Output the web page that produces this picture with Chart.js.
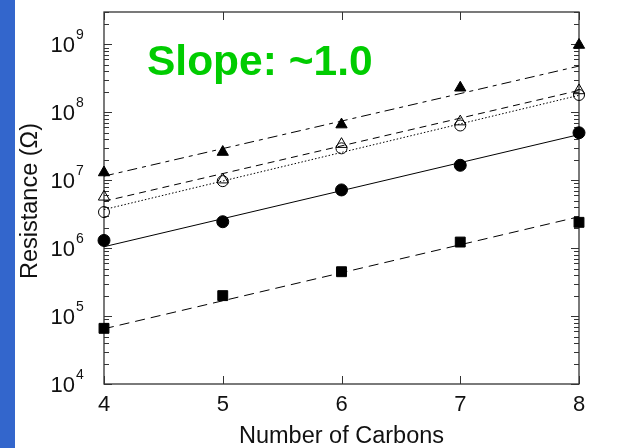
<!DOCTYPE html>
<html><head><meta charset="utf-8">
<script src="https://cdn.jsdelivr.net/npm/chart.js@4.4.1/dist/chart.umd.min.js"></script>
<style>
html,body{margin:0;padding:0;background:#fff;}
#wrap{position:relative;width:619px;height:448px;overflow:hidden;background:#fff;}
#strip{position:absolute;left:0;top:0;width:15px;height:448px;background:#3366cc;}
canvas{position:absolute;left:0;top:0;}
</style></head><body>
<div id="wrap"><div id="strip"></div><canvas id="c" width="619" height="448"></canvas></div>
<script>
// ---- data ----
const carbons = [4, 5, 6, 7, 8];
const filledTriangle = [1.3e7, 2.6e7, 6.6e7, 2.3e8, 9.8e8];
const openTriangle   = [5.7e6, 1.02e7, 3.4e7, 7.3e7, 2.1e8];
const openCircle     = [3.4e6, 9.7e6, 2.95e7, 6.4e7, 1.8e8];
const filledCircle   = [1.3e6, 2.45e6, 7.2e6, 1.66e7, 5.0e7];
const filledSquare   = [6.6e4, 2.0e5, 4.5e5, 1.23e6, 2.4e6];

const fitX = [4, 8];
const fitFilledTriangle = [1.15e7, 4.8e8];
const fitOpenTriangle   = [4.9e6, 2.1e8];
const fitOpenCircle     = [3.7e6, 1.78e8];
const fitFilledCircle   = [1.05e6, 4.7e7];
const fitFilledSquare   = [6.5e4, 2.9e6];

const xTickValues = [4, 5, 6, 7, 8];
const yTickExponents = [4, 5, 6, 7, 8, 9];
const yMin = 1e4, yMax = 3e9;
const xTitle = 'Number of Carbons';
const yTitle = 'Resistance (\u03A9)';
const slopeText = 'Slope: ~1.0';

const pts = (xs, ys) => xs.map((x, i) => ({x: x, y: ys[i]}));

function markerSet(ys, style, radius, filled) {
  return {
    data: pts(carbons, ys), showLine: false, clip: false,
    pointStyle: style, pointRadius: radius, pointHoverRadius: radius,
    backgroundColor: filled ? '#000' : 'rgba(0,0,0,0)',
    borderColor: '#000', pointBorderWidth: 1
  };
}
function fitSet(ys, dash) {
  return {
    data: pts(fitX, ys), showLine: true, clip: false, pointRadius: 0,
    borderColor: '#000', borderWidth: 1, borderDash: dash, fill: false
  };
}

const FONT = '"Liberation Sans", Arial, sans-serif';

const decor = {
  id: 'decor',
  beforeDatasetsDraw(chart) {
    const {ctx, chartArea: a, scales: {x, y}} = chart;
    ctx.save();
    ctx.strokeStyle = '#333';
    ctx.lineWidth = 1.3;
    ctx.strokeRect(a.left, a.top, a.right - a.left, a.bottom - a.top);
    ctx.lineWidth = 1;
    ctx.beginPath();
    xTickValues.forEach(v => {
      const px = Math.round(x.getPixelForValue(v)) + 0.5;
      ctx.moveTo(px, a.bottom); ctx.lineTo(px, a.bottom - 8);
      ctx.moveTo(px, a.top); ctx.lineTo(px, a.top + 8);
    });
    const e0 = yTickExponents[0], e1 = yTickExponents[yTickExponents.length - 1] + 1;
    for (let e = e0; e <= e1; e++) {
      for (let m = 1; m <= 9; m++) {
        const v = m * Math.pow(10, e);
        if (v < yMin || v > yMax) continue;
        const py = Math.round(y.getPixelForValue(v)) + 0.5;
        const len = m === 1 ? 8 : 5;
        ctx.moveTo(a.left, py); ctx.lineTo(a.left + len, py);
        ctx.moveTo(a.right, py); ctx.lineTo(a.right - len, py);
      }
    }
    ctx.stroke();
    ctx.restore();
  },
  afterDraw(chart) {
    const {ctx, chartArea: a, scales: {x, y}} = chart;
    ctx.save();
    ctx.fillStyle = '#111';
    // x tick labels
    ctx.font = '22px ' + FONT;
    ctx.textAlign = 'center';
    ctx.textBaseline = 'alphabetic';
    xTickValues.forEach(v => {
      ctx.fillText(String(v), x.getPixelForValue(v), 411);
    });
    // y tick labels 10^n
    yTickExponents.forEach(e => {
      const py = y.getPixelForValue(Math.pow(10, e));
      ctx.font = '22px ' + FONT;
      ctx.textAlign = 'right';
      ctx.fillText('10', 75, py + 8);
      ctx.font = '14px ' + FONT;
      ctx.textAlign = 'left';
      ctx.fillText(String(e), 76, py - 5);
    });
    // axis titles
    ctx.font = '23.5px ' + FONT;
    ctx.textAlign = 'center';
    ctx.fillText(xTitle, (a.left + a.right) / 2, 443);
    ctx.save();
    ctx.translate(37, (a.top + a.bottom) / 2 + 3);
    ctx.rotate(-Math.PI / 2);
    ctx.fillText(yTitle, 0, 0);
    ctx.restore();
    // annotation
    ctx.font = 'bold 42.5px ' + FONT;
    ctx.fillStyle = '#00cc00';
    ctx.textAlign = 'left';
    ctx.fillText(slopeText, 147, 75);
    ctx.restore();
  }
};

new Chart(document.getElementById('c'), {
  type: 'scatter',
  data: {
    datasets: [
      markerSet(filledTriangle, 'triangle', 6.5, true),
      markerSet(openTriangle, 'triangle', 6.5, false),
      markerSet(openCircle, 'circle', 5.5, false),
      markerSet(filledCircle, 'circle', 6, true),
      markerSet(filledSquare, 'rect', 7, true),
      fitSet(fitFilledTriangle, [10, 5, 4, 5]),
      fitSet(fitOpenTriangle, [7, 5]),
      fitSet(fitOpenCircle, [1.5, 2]),
      fitSet(fitFilledCircle, []),
      fitSet(fitFilledSquare, [10, 6])
    ]
  },
  options: {
    responsive: false,
    animation: false,
    events: [],
    layout: {padding: {left: 104, right: 40, top: 12, bottom: 64}},
    plugins: {legend: {display: false}, tooltip: {enabled: false}, title: {display: false}},
    scales: {
      x: {type: 'linear', min: 4, max: 8, display: false},
      y: {type: 'logarithmic', min: yMin, max: yMax, display: false}
    }
  },
  plugins: [decor]
});
</script>
</body></html>
